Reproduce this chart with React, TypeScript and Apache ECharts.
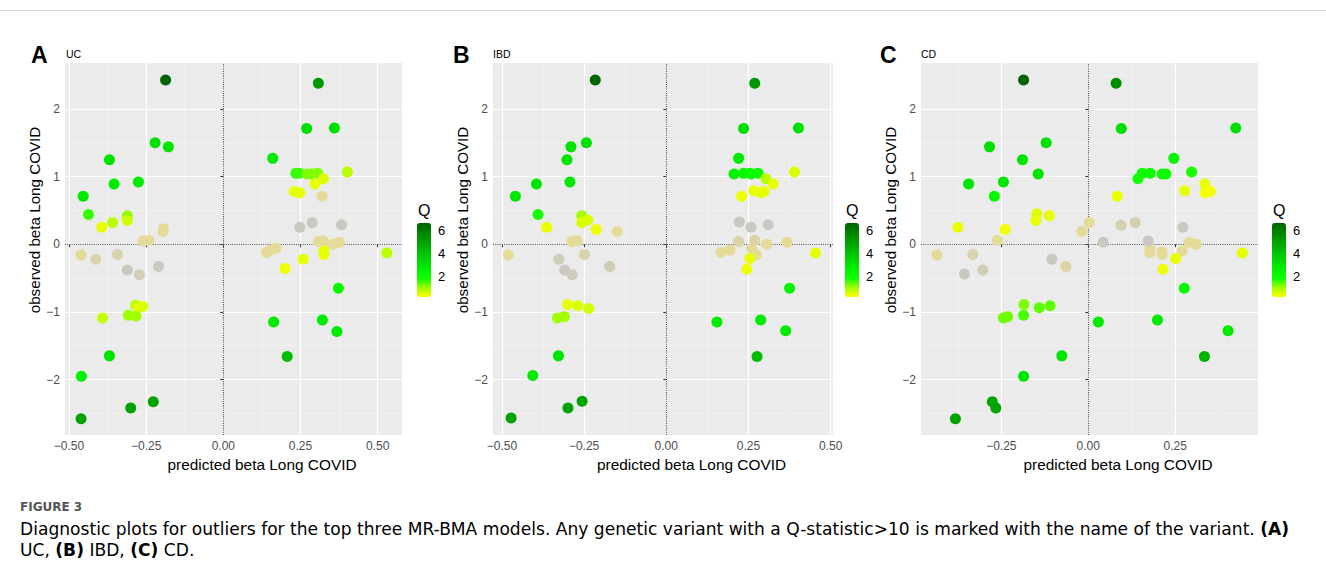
import React, { useEffect, useRef } from 'react';
import * as echarts from 'echarts';

// ---------------- data ----------------
const Q_MIN = 0.2;
const Q_MAX = 6.7;
const legendTicks = [2, 4, 6];
const xMajorTicks = [-0.5, -0.25, 0, 0.25, 0.5];
const xMinorTicks = [-0.375, -0.125, 0.125, 0.375];
const yMajorTicks = [-2, -1, 0, 1, 2];
const yMinorTicks = [-2.5, -1.5, -0.5, 0.5, 1.5, 2.5];
const panelLetters = ['A', 'B', 'C'];
const panelNames = ['UC', 'IBD', 'CD'];
const xRanges: [number, number][] = [[-0.513, 0.579], [-0.527, 0.507], [-0.481, 0.488]];
const yRange: [number, number] = [-2.82, 2.68];

// [predicted beta, observed beta, Q]
const ucPoints: number[][] = [
  [-0.187, 2.43, 6.7], [0.308, 2.38, 5.3], [0.27, 1.71, 3.2], [0.36, 1.72, 3.2],
  [-0.369, 1.25, 3.0], [-0.221, 1.5, 3.2], [-0.178, 1.44, 3.0], [0.16, 1.27, 2.8],
  [-0.354, 0.89, 2.8], [-0.275, 0.92, 2.8], [-0.454, 0.71, 2.8], [-0.437, 0.44, 1.6],
  [-0.394, 0.25, 0.4], [-0.359, 0.32, 0.8], [-0.311, 0.42, 1.1], [-0.311, 0.35, 0.6],
  [0.235, 1.05, 1.6], [0.246, 1.05, 1.6], [0.272, 1.04, 1.2], [0.286, 1.04, 1.2],
  [0.306, 1.05, 1.2], [0.297, 0.89, 0.4], [0.324, 0.97, 0.5], [0.23, 0.78, 0.4],
  [0.248, 0.76, 0.4], [0.402, 1.07, 0.8], [0.326, -0.1, 0.4], [0.326, -0.15, 0.4],
  [0.259, -0.22, 0.4], [0.2, -0.36, 0.35], [0.53, -0.13, 0.8], [-0.284, -0.9, 0.8],
  [-0.275, -0.94, 0.4], [-0.261, -0.92, 0.5], [-0.308, -1.05, 1.0], [-0.283, -1.06, 1.0],
  [-0.391, -1.09, 0.7], [-0.369, -1.65, 3.0], [-0.46, -1.95, 2.6], [-0.461, -2.58, 5.0],
  [-0.3, -2.42, 5.0], [-0.227, -2.33, 5.0], [0.163, -1.15, 2.8], [0.321, -1.12, 2.8],
  [0.368, -1.29, 2.8], [0.373, -0.65, 2.2], [0.207, -1.66, 4.2],
];
// [predicted beta, observed beta, shade (0 grey .. 1 tan)]
const ucFaint: number[][] = [
  [-0.194, 0.23, 1], [-0.196, 0.19, 1], [0.32, 0.71, 1], [0.308, 0.04, 1], [0.324, 0.05, 1],
  [0.356, 0.0, 1], [0.376, 0.03, 1], [0.14, -0.12, 1], [0.153, -0.09, 1], [0.171, -0.06, 1],
  [-0.461, -0.16, 1], [-0.259, 0.05, 1], [-0.241, 0.06, 1], [-0.413, -0.22, 0.5],
  [-0.343, -0.15, 0.5], [0.248, 0.25, 0], [0.288, 0.32, 0], [0.383, 0.29, 0],
  [-0.311, -0.38, 0], [-0.272, -0.45, 0.3], [-0.21, -0.33, 0],
];

const ibdPoints: number[][] = [
  [-0.216, 2.43, 6.7], [0.269, 2.38, 5.3], [0.235, 1.71, 3.2], [0.402, 1.72, 3.2],
  [-0.302, 1.25, 3.0], [-0.243, 1.5, 3.2], [-0.29, 1.44, 3.1], [0.22, 1.27, 2.8],
  [-0.395, 0.89, 3.0], [-0.293, 0.92, 2.9], [-0.459, 0.71, 2.9], [-0.39, 0.44, 1.8],
  [-0.364, 0.25, 0.4], [-0.257, 0.42, 1.0], [-0.257, 0.32, 0.5], [-0.239, 0.36, 0.5],
  [-0.213, 0.22, 0.3], [0.206, 1.04, 2.5], [0.235, 1.05, 2.2], [0.254, 1.05, 2.0],
  [0.258, 1.04, 2.0], [0.279, 1.05, 2.0], [0.303, 0.97, 0.8], [0.325, 0.89, 0.4],
  [0.266, 0.79, 0.4], [0.289, 0.76, 0.4], [0.297, 0.78, 0.4], [0.229, 0.71, 0.35],
  [0.39, 1.07, 0.5], [0.254, -0.21, 0.4], [0.245, -0.37, 0.35], [0.454, -0.13, 0.4],
  [-0.3, -0.89, 0.4], [-0.269, -0.91, 0.5], [-0.236, -0.95, 0.6], [-0.331, -1.09, 1.0],
  [-0.31, -1.07, 1.0], [-0.328, -1.65, 3.0], [-0.406, -1.94, 2.8], [-0.472, -2.57, 5.0],
  [-0.299, -2.42, 5.0], [-0.256, -2.32, 5.0], [0.154, -1.15, 2.8], [0.287, -1.12, 2.8],
  [0.363, -1.28, 2.8], [0.375, -0.65, 2.5], [0.276, -1.66, 4.3],
];
const ibdFaint: number[][] = [
  [-0.149, 0.19, 1], [-0.287, 0.04, 1], [-0.271, 0.05, 1], [-0.48, -0.16, 1], [0.306, 0.0, 1],
  [0.367, 0.03, 1], [0.166, -0.12, 1], [0.194, -0.09, 1], [0.26, -0.06, 1], [0.274, -0.16, 1],
  [-0.249, -0.15, 0.5], [0.22, 0.04, 0.6], [0.269, 0.06, 0.6], [-0.327, -0.22, 0.2],
  [-0.309, -0.38, 0], [-0.286, -0.45, 0.2], [-0.172, -0.33, 0.2], [0.222, 0.33, 0],
  [0.258, 0.25, 0], [0.31, 0.29, 0],
];

const cdPoints: number[][] = [
  [-0.186, 2.43, 6.7], [0.08, 2.38, 5.6], [0.095, 1.71, 3.2], [0.424, 1.72, 3.2],
  [-0.284, 1.44, 3.2], [-0.189, 1.25, 3.0], [-0.121, 1.5, 3.2], [-0.144, 1.04, 3.0],
  [-0.344, 0.89, 3.0], [-0.244, 0.92, 3.0], [-0.27, 0.71, 2.2], [0.246, 1.27, 2.3],
  [0.143, 0.97, 1.8], [0.155, 1.05, 2.0], [0.178, 1.05, 2.0], [0.212, 1.04, 2.0],
  [0.223, 1.04, 2.0], [0.297, 1.07, 1.8], [0.335, 0.89, 0.4], [0.277, 0.79, 0.4],
  [0.336, 0.76, 0.3], [0.351, 0.78, 0.3], [0.083, 0.71, 0.4], [-0.375, 0.25, 0.4],
  [-0.239, 0.22, 0.3], [-0.148, 0.45, 0.5], [-0.151, 0.35, 0.4], [-0.112, 0.42, 0.4],
  [0.251, -0.21, 0.4], [0.215, -0.37, 0.35], [0.443, -0.13, 0.4], [-0.185, -0.89, 1.2],
  [-0.141, -0.94, 1.4], [-0.11, -0.91, 1.4], [-0.244, -1.09, 1.3], [-0.232, -1.07, 1.3],
  [-0.186, -1.05, 1.5], [-0.076, -1.65, 3.0], [-0.186, -1.95, 3.0], [-0.382, -2.58, 5.0],
  [-0.276, -2.33, 5.0], [-0.266, -2.42, 5.0], [0.029, -1.15, 2.8], [0.199, -1.12, 2.8],
  [0.402, -1.28, 2.8], [0.276, -0.65, 2.2], [0.334, -1.66, 4.5],
];
const cdFaint: number[][] = [
  [0.003, 0.32, 1], [-0.018, 0.19, 1], [-0.261, 0.06, 1], [-0.435, -0.16, 1], [0.177, -0.06, 1],
  [0.177, -0.12, 1], [0.212, -0.11, 1], [0.212, -0.15, 1], [0.27, -0.1, 1], [0.29, 0.03, 1],
  [0.311, 0.0, 1], [-0.332, -0.15, 0.5], [-0.064, -0.33, 0.6], [0.094, 0.28, 0.4],
  [0.135, 0.32, 0.4], [-0.105, -0.22, 0], [-0.303, -0.38, 0.3], [-0.356, -0.44, 0],
  [0.043, 0.03, 0], [0.172, 0.05, 0], [0.272, 0.25, 0],
];

const mainSets = [ucPoints, ibdPoints, cdPoints];
const faintSets = [ucFaint, ibdFaint, cdFaint];

const captionTitle = 'FIGURE 3';
const captionLine1 = 'Diagnostic plots for outliers for the top three MR-BMA models. Any genetic variant with a Q-statistic>10 is marked with the name of the variant. ';
const captionLine2Parts = ['(B)', ' IBD, ', '(C)', ' CD.'];

// ---------------- layout ----------------
const FONT = '"Liberation Sans", Arial, sans-serif';
const GRID_TOP = 63;
const GRID_H = 372;
const panels = [
  { left: 65, width: 337, legendLeft: 417, letterX: 31, nameX: 66 },
  { left: 493, width: 340, legendLeft: 845, letterX: 453, nameX: 493 },
  { left: 921, width: 337, legendLeft: 1272, letterX: 880, nameX: 921 },
];
const LEG_TOP = 223;
const LEG_H = 74;
const LEG_W = 14;

const minus = (s: string) => s.replace('-', '\u2212');

export default function App() {
  const ref = useRef<HTMLDivElement>(null);
  useEffect(() => {
    document.body.style.margin = '0';
    const chart = echarts.init(ref.current!, null, { renderer: 'svg' });

    const grid: any[] = [];
    const xAxis: any[] = [];
    const yAxis: any[] = [];
    const series: any[] = [];
    const visualMap: any[] = [];
    const graphic: any[] = [];

    panels.forEach((p, i) => {
      grid.push({
        left: p.left, top: GRID_TOP, width: p.width, height: GRID_H,
        show: true, backgroundColor: '#EBEBEB', borderWidth: 0,
      });
      const [xmin, xmax] = xRanges[i];
      xAxis.push({
        type: 'value', gridIndex: i, min: xmin, max: xmax,
        name: 'predicted beta Long COVID', nameLocation: 'middle', nameGap: 14,
        nameTextStyle: { fontFamily: FONT, fontSize: 15.4, color: '#000', verticalAlign: 'top', padding: [0, 0, 0, 57] },
        axisLine: { show: false },
        axisTick: { show: true, length: 3, lineStyle: { color: '#333', width: 1 }, customValues: xMajorTicks.filter(v => v >= xmin && v <= xmax) },
        axisLabel: {
          show: true, margin: 5, fontFamily: FONT, fontSize: 12, color: '#4D4D4D',
          customValues: xMajorTicks.filter(v => v >= xmin && v <= xmax),
          formatter: (v: number) => minus(v.toFixed(2)),
        },
        splitLine: { show: true, lineStyle: { color: '#FFFFFF', width: 1.2 } },
      });
      xAxis.push({
        type: 'value', gridIndex: i, min: xmin, max: xmax,
        axisLine: { show: false },
        axisTick: { show: false, customValues: xMinorTicks.filter(v => v >= xmin && v <= xmax) },
        axisLabel: { show: false, customValues: xMinorTicks.filter(v => v >= xmin && v <= xmax) },
        splitLine: { show: true, lineStyle: { color: '#F5F5F5', width: 0.6 } },
      });
      yAxis.push({
        type: 'value', gridIndex: i, min: yRange[0], max: yRange[1],
        name: 'observed beta Long COVID', nameLocation: 'middle', nameGap: 21, nameRotate: 90,
        nameTextStyle: { fontFamily: FONT, fontSize: 15.2, color: '#000', padding: [0, 0, 0, 58] },
        axisLine: { show: false },
        axisTick: { show: true, length: 3, lineStyle: { color: '#333', width: 1 }, customValues: yMajorTicks },
        axisLabel: {
          show: true, margin: 5, fontFamily: FONT, fontSize: 12, color: '#4D4D4D',
          customValues: yMajorTicks,
          formatter: (v: number) => minus(String(v)),
        },
        splitLine: { show: true, lineStyle: { color: '#FFFFFF', width: 1.2 } },
      });
      yAxis.push({
        type: 'value', gridIndex: i, min: yRange[0], max: yRange[1],
        axisLine: { show: false },
        axisTick: { show: false, customValues: yMinorTicks },
        axisLabel: { show: false, customValues: yMinorTicks },
        splitLine: { show: true, lineStyle: { color: '#F5F5F5', width: 0.6 } },
      });

      const faintIdx = series.length;
      series.push({
        type: 'scatter', name: panelNames[i] + ' faint',
        xAxisIndex: 2 * i, yAxisIndex: 2 * i,
        data: faintSets[i], symbolSize: 11, z: 3,
        itemStyle: { opacity: 1 },
        markLine: {
          silent: true, symbol: ['none', 'none'], label: { show: false },
          lineStyle: { color: '#555', type: 'dotted', width: 1.1 },
          data: [{ xAxis: 0 }, { yAxis: 0 }],
          z: 2,
        },
      });
      const mainIdx = series.length;
      series.push({
        type: 'scatter', name: panelNames[i],
        xAxisIndex: 2 * i, yAxisIndex: 2 * i,
        data: mainSets[i], symbolSize: 11, z: 4,
        itemStyle: { opacity: 1 },
      });
      visualMap.push({
        type: 'continuous', show: true, seriesIndex: mainIdx, dimension: 2,
        min: Q_MIN, max: Q_MAX, calculable: false, orient: 'vertical',
        left: p.legendLeft, top: LEG_TOP, itemWidth: LEG_W, itemHeight: LEG_H, padding: 0,
        inRange: { color: ['#FFFF00', '#A0FF00', '#10FF00', '#00F000', '#00D800', '#00BC00', '#00A000', '#008200', '#006400'] },
        textStyle: { color: 'transparent' },
      });
      visualMap.push({
        type: 'continuous', show: false, seriesIndex: faintIdx, dimension: 2,
        min: 0, max: 1, inRange: { color: ['#CAC8C1', '#E5DB98'] },
      });

      graphic.push({
        type: 'text', x: p.letterX, y: 55,
        style: { text: panelLetters[i], fontFamily: FONT, fontSize: 23, fontWeight: 'bold', fill: '#000', verticalAlign: 'middle' },
      });
      graphic.push({
        type: 'text', x: p.nameX, y: 53.5,
        style: { text: panelNames[i], fontFamily: FONT, fontSize: 10.5, fill: '#000', verticalAlign: 'middle' },
      });
      graphic.push({
        type: 'text', x: p.legendLeft + 1, y: 210,
        style: { text: 'Q', fontFamily: FONT, fontSize: 16, fill: '#000', verticalAlign: 'middle' },
      });
      legendTicks.forEach(t => {
        graphic.push({
          type: 'text', x: p.legendLeft + LEG_W + 7,
          y: LEG_TOP + ((Q_MAX - t) / (Q_MAX - Q_MIN)) * LEG_H,
          style: { text: String(t), fontFamily: FONT, fontSize: 13, fill: '#000', verticalAlign: 'middle' },
        });
      });
    });

    graphic.push({ type: 'line', shape: { x1: 0, y1: 10.5, x2: 1326, y2: 10.5 }, style: { stroke: '#D6D6D6', lineWidth: 1 } });

    const CAP = '"DejaVu Sans", "Noto Sans", sans-serif';
    const capSize = 17.1;
    graphic.push({
      type: 'text', x: 20, y: 507,
      style: { text: captionTitle, fontFamily: CAP, fontSize: 12, fontWeight: 'bold', fill: '#555', verticalAlign: 'middle', lineHeight: 14 },
    });
    const rich = {
      n: { fontFamily: CAP, fontSize: capSize, color: '#555', lineHeight: 19 },
      b: { fontFamily: CAP, fontSize: capSize, fontWeight: 'bold', color: '#555', lineHeight: 19 },
    };
    graphic.push({
      type: 'text', x: 20, y: 528.5,
      style: { text: '{n|' + captionLine1 + '}{b|(A)}', verticalAlign: 'middle', rich },
    });
    graphic.push({
      type: 'text', x: 20, y: 550,
      style: {
        text: '{n|UC, }{b|' + captionLine2Parts[0] + '}{n|' + captionLine2Parts[1] + '}{b|' + captionLine2Parts[2] + '}{n|' + captionLine2Parts[3] + '}',
        verticalAlign: 'middle', rich,
      },
    });

    chart.setOption({
      animation: false,
      backgroundColor: '#FFFFFF',
      grid, xAxis, yAxis, series, visualMap, graphic,
    });
    return () => chart.dispose();
  }, []);
  return <div ref={ref} style={{ width: 1326, height: 580 }} />;
}
